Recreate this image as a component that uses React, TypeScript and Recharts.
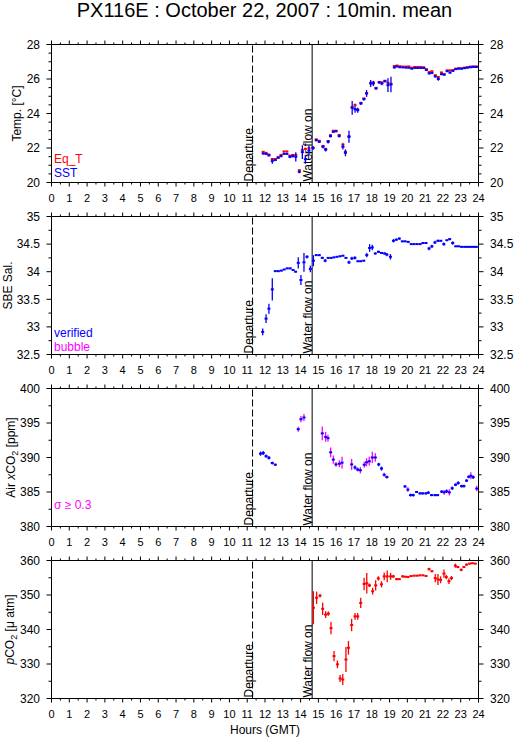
import React from 'react';
import { ComposedChart, Scatter, XAxis, YAxis, ErrorBar, ReferenceLine, Legend } from 'recharts';

const FONT = '"Liberation Sans", Arial, Helvetica, sans-serif';
const RED = '#ff0000';
const BLUE = '#0000ff';
const MAGENTA = '#ff00ff';

// ---------- axes ----------
const HOUR_TICKS = [0, 0.5, 1, 1.5, 2, 2.5, 3, 3.5, 4, 4.5, 5, 5.5, 6, 6.5, 7, 7.5, 8, 8.5, 9, 9.5, 10, 10.5, 11, 11.5, 12, 12.5, 13, 13.5, 14, 14.5, 15, 15.5, 16, 16.5, 17, 17.5, 18, 18.5, 19, 19.5, 20, 20.5, 21, 21.5, 22, 22.5, 23, 23.5, 24];
const HOUR_MAJOR = [0, 1, 2, 3, 4, 5, 6, 7, 8, 9, 10, 11, 12, 13, 14, 15, 16, 17, 18, 19, 20, 21, 22, 23, 24];

const TEMP_TICKS = [20, 20.5, 21, 21.5, 22, 22.5, 23, 23.5, 24, 24.5, 25, 25.5, 26, 26.5, 27, 27.5, 28];
const TEMP_MAJOR = [20, 22, 24, 26, 28];
const SAL_TICKS = [32.5, 32.75, 33, 33.25, 33.5, 33.75, 34, 34.25, 34.5, 34.75, 35];
const SAL_MAJOR = [32.5, 33, 33.5, 34, 34.5, 35];
const AIR_TICKS = [380, 382.5, 385, 387.5, 390, 392.5, 395, 397.5, 400];
const AIR_MAJOR = [380, 385, 390, 395, 400];
const PCO2_TICKS = [320, 325, 330, 335, 340, 345, 350, 355, 360];
const PCO2_MAJOR = [320, 330, 340, 350, 360];

// ---------- events ----------
const DEPARTURE_HOUR = 11.3;
const WATER_FLOW_HOUR = 14.65;
const HALF_SPAN = 0.085; // about half of the 10-minute averaging window (hours)

// ---------- panel 1: temperature ----------
const TEMP_HOURS = [11.9, 12.06, 12.22, 12.41, 12.58, 12.74, 12.9, 13.07, 13.23, 13.4, 13.56, 13.73, 13.93, 14.1, 14.27, 14.47, 14.7, 14.88, 15.05, 15.26, 15.41, 15.55, 15.68, 15.84, 15.99, 16.17, 16.38, 16.52, 16.72, 16.9, 17.06, 17.21, 17.39, 17.56, 17.71, 17.94, 18.09, 18.24, 18.42, 18.57, 18.74, 18.91, 19.08, 19.27, 19.42, 19.58, 19.75, 19.92, 20.08, 20.25, 20.42, 20.58, 20.75, 20.92, 21.07, 21.23, 21.38, 21.57, 21.74, 21.92, 22.07, 22.24, 22.4, 22.56, 22.72, 22.88, 23.05, 23.22, 23.38, 23.55, 23.72, 23.88];
const EQ_T = [21.78, 21.72, 21.62, 21.36, 21.36, 21.47, 21.6, 21.8, 21.8, 21.56, 21.6, 21.6, 20.71, 21.88, 21.95, 21.98, 22.02, 22.5, 22.42, 22.12, 21.95, 22.4, 22.74, 23.0, 23.0, 22.76, 22.2, 21.78, 22.68, 24.38, 24.5, 24.23, 24.62, 24.87, 25.18, 25.78, 25.8, 25.49, 25.83, 25.8, 25.9, 25.78, 25.72, 26.75, 26.78, 26.74, 26.72, 26.72, 26.73, 26.66, 26.7, 26.7, 26.7, 26.68, 26.57, 26.4, 26.45, 26.22, 26.12, 26.38, 26.28, 26.5, 26.5, 26.52, 26.6, 26.62, 26.62, 26.66, 26.68, 26.72, 26.73, 26.73];
const EQ_T_ERR = [0.04, 0.04, 0.04, 0.06, 0.04, 0.04, 0.04, 0.04, 0.04, 0.04, 0.04, 0.05, 0.05, 0.06, 0.06, 0.06, 0.04, 0.04, 0.04, 0.04, 0.04, 0.04, 0.04, 0.03, 0.03, 0.04, 0.1, 0.06, 0.08, 0.06, 0.06, 0.04, 0.04, 0.04, 0.04, 0.04, 0.04, 0.03, 0.04, 0.04, 0.03, 0.05, 0.05, 0.03, 0.02, 0.02, 0.02, 0.02, 0.02, 0.02, 0.02, 0.02, 0.02, 0.02, 0.02, 0.03, 0.03, 0.03, 0.04, 0.03, 0.03, 0.03, 0.03, 0.02, 0.02, 0.02, 0.02, 0.02, 0.02, 0.02, 0.02, 0.02];
const SST = [21.68, 21.66, 21.57, 21.24, 21.3, 21.43, 21.53, 21.66, 21.66, 21.49, 21.53, 21.49, 20.62, 21.76, 21.35, 21.85, 22.0, 22.45, 22.36, 22.07, 21.9, 22.36, 22.69, 22.94, 22.97, 22.69, 22.07, 21.72, 22.65, 24.33, 24.25, 24.19, 24.58, 24.83, 25.16, 25.74, 25.74, 25.45, 25.8, 25.74, 25.87, 25.64, 25.68, 26.67, 26.72, 26.68, 26.67, 26.66, 26.65, 26.6, 26.64, 26.64, 26.64, 26.64, 26.52, 26.32, 26.35, 26.15, 26.0, 26.28, 26.25, 26.45, 26.37, 26.47, 26.57, 26.6, 26.6, 26.63, 26.66, 26.68, 26.7, 26.7];
const SST_ERR = [0.06, 0.06, 0.05, 0.15, 0.06, 0.06, 0.06, 0.06, 0.06, 0.08, 0.08, 0.27, 0.08, 0.4, 0.25, 0.3, 0.12, 0.06, 0.06, 0.1, 0.1, 0.1, 0.08, 0.05, 0.05, 0.08, 0.15, 0.2, 0.35, 0.4, 0.2, 0.15, 0.08, 0.08, 0.2, 0.2, 0.15, 0.06, 0.08, 0.1, 0.06, 0.4, 0.45, 0.06, 0.03, 0.03, 0.03, 0.03, 0.03, 0.03, 0.03, 0.03, 0.03, 0.03, 0.04, 0.05, 0.06, 0.06, 0.1, 0.05, 0.04, 0.05, 0.06, 0.04, 0.03, 0.03, 0.03, 0.03, 0.03, 0.03, 0.03, 0.03];

// ---------- panel 2: salinity ----------
const SAL_HOURS = [11.87, 12.06, 12.22, 12.41, 12.58, 12.75, 12.92, 13.08, 13.25, 13.42, 13.58, 13.72, 13.87, 14.02, 14.19, 14.36, 14.55, 14.72, 14.88, 15.05, 15.22, 15.38, 15.55, 15.72, 15.88, 16.05, 16.22, 16.38, 16.55, 16.72, 16.88, 17.05, 17.22, 17.38, 17.55, 17.72, 17.88, 18.03, 18.2, 18.38, 18.55, 18.72, 18.85, 19.05, 19.22, 19.38, 19.55, 19.72, 19.88, 20.05, 20.22, 20.38, 20.55, 20.72, 20.88, 21.05, 21.22, 21.38, 21.55, 21.72, 21.88, 22.05, 22.22, 22.38, 22.55, 22.72, 22.88, 23.05, 23.22, 23.38, 23.55, 23.72, 23.88];
const SAL = [32.91, 33.15, 33.33, 33.68, 34.01, 34.01, 34.02, 34.04, 34.06, 34.06, 34.03, 34.0, 34.16, 33.85, 34.17, 34.27, 34.05, 34.2, 34.3, 34.3, 34.25, 34.2, 34.25, 34.25, 34.26, 34.27, 34.28, 34.29, 34.25, 34.17, 34.24, 34.25, 34.19, 34.19, 34.2, 34.3, 34.43, 34.44, 34.33, 34.36, 34.34, 34.33, 34.31, 34.27, 34.56, 34.58, 34.6, 34.55, 34.55, 34.54, 34.5, 34.5, 34.5, 34.5, 34.52, 34.52, 34.42, 34.46, 34.53, 34.56, 34.56, 34.5, 34.57, 34.59, 34.52, 34.46, 34.46, 34.45, 34.45, 34.45, 34.45, 34.45, 34.45];
const SAL_ERR = [0.06, 0.08, 0.09, 0.2, 0.01, 0.01, 0.01, 0.01, 0.01, 0.01, 0.01, 0.01, 0.1, 0.09, 0.17, 0.03, 0.06, 0.1, 0.01, 0.01, 0.02, 0.03, 0.01, 0.01, 0.01, 0.01, 0.01, 0.01, 0.01, 0.03, 0.03, 0.03, 0.01, 0.01, 0.01, 0.04, 0.07, 0.05, 0.02, 0.02, 0.01, 0.02, 0.03, 0.05, 0.03, 0.02, 0.02, 0.01, 0.01, 0.01, 0.01, 0.01, 0.01, 0.01, 0.01, 0.01, 0.03, 0.03, 0.03, 0.02, 0.01, 0.03, 0.01, 0.02, 0.03, 0.01, 0.01, 0.01, 0.01, 0.01, 0.01, 0.01, 0.01];

// ---------- panel 3: air xCO2 ----------
const AIR_HOURS = [11.75, 11.9, 12.06, 12.22, 12.41, 12.58, 13.87, 14.02, 14.19, 15.22, 15.41, 15.54, 15.69, 15.84, 15.99, 16.18, 16.33, 16.87, 17.06, 17.21, 17.36, 17.58, 17.71, 17.86, 18.03, 18.2, 18.39, 18.55, 18.7, 18.85, 19.87, 20.03, 20.18, 20.33, 20.52, 20.71, 20.86, 21.04, 21.18, 21.36, 21.55, 21.7, 21.93, 22.07, 22.21, 22.36, 22.52, 22.71, 22.86, 23.05, 23.18, 23.33, 23.45, 23.57, 23.7, 23.9];
const AIR_XCO2 = [390.56, 390.65, 390.2, 389.95, 389.2, 388.96, 394.1, 395.55, 395.8, 393.5, 392.98, 392.8, 390.75, 389.7, 389.0, 389.1, 389.25, 389.0, 388.55, 388.25, 388.15, 388.95, 389.3, 389.45, 390.0, 390.0, 389.0, 388.4, 387.5, 387.17, 385.8, 385.35, 384.55, 384.55, 385.0, 384.8, 384.8, 384.8, 384.9, 384.55, 384.55, 384.55, 385.05, 384.95, 385.1, 384.95, 385.55, 386.05, 386.3, 385.85, 385.85, 386.65, 387.2, 387.35, 387.15, 385.5];
const AIR_ERR = [0.3, 0.3, 0.25, 0.25, 0.2, 0.15, 0.35, 0.45, 0.5, 1.0, 0.7, 0.5, 0.7, 0.6, 0.35, 0.5, 0.85, 0.8, 0.3, 0.25, 0.45, 0.45, 0.6, 0.65, 0.85, 0.6, 0.25, 0.3, 0.3, 0.2, 0.2, 0.35, 0.2, 0.2, 0.05, 0.15, 0.15, 0.15, 0.2, 0.15, 0.15, 0.15, 0.2, 0.35, 0.25, 0.45, 0.25, 0.2, 0.25, 0.2, 0.2, 0.2, 0.2, 0.5, 0.25, 0.4];
const AIR_SIGMA_HIGH = [0, 0, 0, 0, 0, 0, 1, 1, 1, 1, 1, 1, 1, 1, 1, 1, 1, 1, 0, 0, 1, 1, 1, 1, 1, 1, 0, 0, 1, 0, 0, 1, 0, 0, 0, 0, 0, 0, 0, 0, 0, 0, 0, 1, 0, 1, 0, 0, 0, 0, 0, 0, 0, 1, 0, 1];

// ---------- panel 4: pCO2 ----------
const PCO2_HOURS = [14.72, 14.9, 15.09, 15.24, 15.41, 15.56, 15.71, 15.88, 16.07, 16.22, 16.37, 16.55, 16.69, 16.87, 17.06, 17.21, 17.38, 17.57, 17.72, 17.87, 18.05, 18.22, 18.37, 18.55, 18.7, 18.87, 19.06, 19.21, 19.4, 19.55, 19.74, 19.89, 20.04, 20.21, 20.38, 20.55, 20.71, 20.88, 21.05, 21.22, 21.38, 21.57, 21.72, 21.87, 22.06, 22.19, 22.34, 22.48, 22.7, 22.84, 23.03, 23.18, 23.33, 23.5, 23.66, 23.82];
const PCO2 = [346.3, 349.2, 349.8, 346.0, 344.3, 344.6, 340.4, 332.3, 329.9, 325.8, 325.5, 331.3, 334.7, 341.3, 343.8, 343.8, 347.7, 353.2, 353.4, 352.8, 351.1, 352.8, 354.8, 353.1, 355.4, 355.4, 355.4, 355.4, 354.6, 354.6, 355.4, 355.3, 355.2, 355.5, 355.6, 355.6, 355.7, 355.7, 355.5, 357.5, 356.9, 354.9, 354.5, 354.4, 356.2, 355.2, 354.0, 354.9, 358.5, 358.1, 357.3, 358.1, 358.8, 359.1, 359.2, 359.1];
const PCO2_ERR = [4.8, 1.8, 0.5, 1.8, 1.0, 0.6, 1.8, 1.5, 1.1, 1.0, 1.6, 3.6, 2.0, 1.8, 1.0, 1.0, 1.5, 1.8, 3.0, 0.5, 1.0, 1.5, 0.6, 0.9, 1.1, 1.7, 1.0, 0.5, 0.3, 0.2, 0.3, 0.2, 0.3, 0.2, 0.2, 0.2, 0.2, 0.2, 0.3, 0.4, 0.3, 1.2, 1.6, 1.0, 1.2, 0.6, 0.8, 0.6, 0.6, 0.3, 0.4, 0.3, 0.3, 0.2, 0.2, 0.2];

// ---------- tables built from the arrays ----------
type Pt = { x: number; y: number; ey: number; ex: number };
const toPoints = (hours: number[], values: number[], errs: number[]): Pt[] =>
  hours.map((h, i) => ({ x: h, y: values[i], ey: errs[i], ex: HALF_SPAN }));

const eqtData = toPoints(TEMP_HOURS, EQ_T, EQ_T_ERR);
const sstData = toPoints(TEMP_HOURS, SST, SST_ERR);
const salData = toPoints(SAL_HOURS, SAL, SAL_ERR);
const airAll = toPoints(AIR_HOURS, AIR_XCO2, AIR_ERR);
const airLow = airAll.filter((_, i) => !AIR_SIGMA_HIGH[i]);
const airHigh = airAll.filter((_, i) => AIR_SIGMA_HIGH[i]);
const pco2Data = toPoints(PCO2_HOURS, PCO2, PCO2_ERR);

// ---------- renderers ----------
const isIn = (list: number[], v: number) => list.some((m) => Math.abs(m - v) < 1e-9);
const NoShape = () => <g />;

const makeXTick = (side: 'top' | 'bottom') => (props: any) => {
  const { x, y, payload } = props;
  const v = payload.value;
  const major = isIn(HOUR_MAJOR, v);
  const len = major ? 4 : 2;
  const dir = side === 'top' ? -1 : 1;
  return (
    <g>
      <line x1={x} x2={x} y1={y} y2={y + dir * len} stroke="#000" strokeWidth={1} />
      {side === 'bottom' && major ? (
        <text x={x} y={y + 19.5} textAnchor="middle" fontSize={11} fontFamily={FONT} fill="#000">
          {v}
        </text>
      ) : null}
    </g>
  );
};
const topTick = makeXTick('top');
const bottomTick = makeXTick('bottom');

const makeYTick = (side: 'left' | 'right', majors: number[]) => (props: any) => {
  const { x, y, payload } = props;
  const v = payload.value;
  const major = isIn(majors, v);
  const len = major ? 5 : 3;
  const dir = side === 'left' ? -1 : 1;
  return (
    <g>
      <line x1={x} x2={x + dir * len} y1={y} y2={y} stroke="#000" strokeWidth={1} />
      {major ? (
        <text
          x={x + dir * 11.5}
          y={y + 4.3}
          textAnchor={side === 'left' ? 'end' : 'start'}
          fontSize={12}
          fontFamily={FONT}
          fill="#000"
        >
          {v}
        </text>
      ) : null}
    </g>
  );
};

const yTitle = (bx: number, content: React.ReactNode) => (props: any) => {
  const vb = props.viewBox || {};
  const cy = vb.y + vb.height / 2;
  return (
    <text
      x={bx}
      y={cy}
      transform={`rotate(-90 ${bx} ${cy})`}
      textAnchor="middle"
      fontSize={12}
      fontFamily={FONT}
      fill="#000"
    >
      {content}
    </text>
  );
};

const xTitle = (text: string) => (props: any) => {
  const vb = props.viewBox || {};
  return (
    <text x={vb.x + vb.width / 2} y={vb.y + 35} textAnchor="middle" fontSize={12} fontFamily={FONT} fill="#000">
      {text}
    </text>
  );
};

const vlineLabel = (text: string) => (props: any) => {
  const vb = props.viewBox || {};
  const bx = vb.x;
  const by = vb.y + vb.height - 1;
  return (
    <text x={bx} y={by} transform={`rotate(-90 ${bx} ${by})`} textAnchor="start" fontSize={12} fontFamily={FONT} fill="#000">
      {text}
    </text>
  );
};

type LegendItem = { text: string; color: string };
type PanelCfg = {
  index: number;
  bottomH: number;
  domain: [number, number];
  ticks: number[];
  majors: number[];
  yTitleX: number;
  yTitleContent: React.ReactNode;
  xTitleText?: string;
  legend?: LegendItem[];
  legendTop?: number;
};

const AXIS_LINE = { stroke: '#000', strokeWidth: 1 };

function Panel({ cfg, children }: { cfg: PanelCfg; children: React.ReactNode }) {
  const top = 34 + 172 * cfg.index;
  const height = 10.5 + 138 + cfg.bottomH;
  const legendItems = cfg.legend;
  return (
    <div style={{ position: 'absolute', left: 0, top }}>
      <ComposedChart width={515} height={height} margin={{ top: 0, right: 0, bottom: 0, left: 0 }}>
        <XAxis
          xAxisId="t"
          orientation="top"
          type="number"
          dataKey="x"
          domain={[0, 24]}
          allowDataOverflow
          ticks={HOUR_TICKS}
          interval={0}
          height={10.5}
          tickSize={0}
          tickMargin={0}
          tickLine={false}
          tick={topTick}
          axisLine={AXIS_LINE}
        />
        <XAxis
          xAxisId="b"
          orientation="bottom"
          type="number"
          dataKey="x"
          domain={[0, 24]}
          allowDataOverflow
          ticks={HOUR_TICKS}
          interval={0}
          height={cfg.bottomH}
          tickSize={0}
          tickMargin={0}
          tickLine={false}
          tick={bottomTick}
          axisLine={AXIS_LINE}
          label={cfg.xTitleText ? { content: xTitle(cfg.xTitleText) } : undefined}
        />
        <YAxis
          yAxisId="l"
          orientation="left"
          type="number"
          dataKey="y"
          domain={cfg.domain}
          allowDataOverflow
          ticks={cfg.ticks}
          interval={0}
          width={51.5}
          tickSize={0}
          tickMargin={0}
          tickLine={false}
          tick={makeYTick('left', cfg.majors)}
          axisLine={AXIS_LINE}
          label={{ content: yTitle(cfg.yTitleX, cfg.yTitleContent) }}
        />
        <YAxis
          yAxisId="r"
          orientation="right"
          type="number"
          dataKey="y"
          domain={cfg.domain}
          allowDataOverflow
          ticks={cfg.ticks}
          interval={0}
          width={36.5}
          tickSize={0}
          tickMargin={0}
          tickLine={false}
          tick={makeYTick('right', cfg.majors)}
          axisLine={AXIS_LINE}
        />
        <ReferenceLine
          xAxisId="b"
          yAxisId="l"
          x={DEPARTURE_HOUR}
          stroke="#000"
          strokeWidth={1}
          strokeDasharray="7 3"
          label={{ content: vlineLabel('Departure') }}
        />
        <ReferenceLine
          xAxisId="b"
          yAxisId="l"
          x={WATER_FLOW_HOUR}
          stroke="#000"
          strokeWidth={1}
          label={{ content: vlineLabel('Water flow on') }}
        />
        {children}
        {legendItems ? (
          <Legend
            layout="horizontal"
            verticalAlign="middle"
            align="center"
            wrapperStyle={{ left: 54, top: cfg.legendTop, width: 90, height: 30 }}
            content={() => (
              <div style={{ fontFamily: FONT, fontSize: 12, lineHeight: '14px', textAlign: 'left' }}>
                {legendItems.map((l) => (
                  <div key={l.text} style={{ color: l.color }}>
                    {l.text}
                  </div>
                ))}
              </div>
            )}
          />
        ) : null}
      </ComposedChart>
    </div>
  );
}

function Series({ data, color, vColor, hor = true, ver = true }: { data: Pt[]; color: string; vColor?: string; hor?: boolean; ver?: boolean }) {
  return (
    <Scatter
      data={data}
      xAxisId="b"
      yAxisId="l"
      dataKey="y"
      shape={NoShape}
      isAnimationActive={false}
      legendType="none"
    >
      {ver ? <ErrorBar dataKey="ey" direction="y" width={0} stroke={vColor || color} strokeWidth={1.3} isAnimationActive={false} /> : null}
      {hor ? <ErrorBar dataKey="ex" direction="x" width={0} stroke={color} strokeWidth={2} isAnimationActive={false} /> : null}
    </Scatter>
  );
}

export default function App() {
  return (
    <div style={{ position: 'absolute', left: 0, top: 0, width: 515, height: 739, background: '#fff', overflow: 'hidden' }}>
      <div
        style={{
          position: 'absolute',
          left: 0,
          top: 0,
          width: 529,
          textAlign: 'center',
          fontFamily: FONT,
          fontSize: 20,
          lineHeight: '20px',
          color: '#000',
        }}
      >
        PX116E : October 22, 2007 : 10min. mean
      </div>

      <Panel
        cfg={{
          index: 0,
          bottomH: 23.5,
          domain: [20, 28],
          ticks: TEMP_TICKS,
          majors: TEMP_MAJOR,
          yTitleX: 21,
          yTitleContent: 'Temp. [°C]',
          legend: [
            { text: 'Eq_T', color: RED },
            { text: 'SST', color: BLUE },
          ],
          legendTop: 117.5,
        }}
      >
        <Series data={eqtData} color={RED} />
        <Series data={sstData} color={BLUE} />
      </Panel>

      <Panel
        cfg={{
          index: 1,
          bottomH: 23.5,
          domain: [32.5, 35],
          ticks: SAL_TICKS,
          majors: SAL_MAJOR,
          yTitleX: 11.5,
          yTitleContent: 'SBE Sal.',
          legend: [
            { text: 'verified', color: BLUE },
            { text: 'bubble', color: MAGENTA },
          ],
          legendTop: 119.5,
        }}
      >
        <Series data={salData} color={BLUE} />
      </Panel>

      <Panel
        cfg={{
          index: 2,
          bottomH: 23.5,
          domain: [380, 400],
          ticks: AIR_TICKS,
          majors: AIR_MAJOR,
          yTitleX: 14.5,
          yTitleContent: (
            <>
              <tspan>Air </tspan>
              <tspan fontStyle="italic">x</tspan>
              <tspan>CO</tspan>
              <tspan dy={3} fontSize={9}>2</tspan>
              <tspan dy={-3}> [ppm]</tspan>
            </>
          ),
          legend: [{ text: 'σ ≥ 0.3', color: MAGENTA }],
          legendTop: 119.5,
        }}
      >
        <Series data={airLow} color={BLUE} hor={false} />
        <Series data={airHigh} color={MAGENTA} hor={false} />
        <Series data={airAll} color={BLUE} ver={false} />
      </Panel>

      <Panel
        cfg={{
          index: 3,
          bottomH: 40.5,
          domain: [320, 360],
          ticks: PCO2_TICKS,
          majors: PCO2_MAJOR,
          yTitleX: 14,
          yTitleContent: (
            <>
              <tspan fontStyle="italic">p</tspan>
              <tspan>CO</tspan>
              <tspan dy={3} fontSize={9}>2</tspan>
              <tspan dy={-3}> [μ atm]</tspan>
            </>
          ),
          xTitleText: 'Hours (GMT)',
        }}
      >
        <Series data={pco2Data} color={RED} />
      </Panel>
    </div>
  );
}
